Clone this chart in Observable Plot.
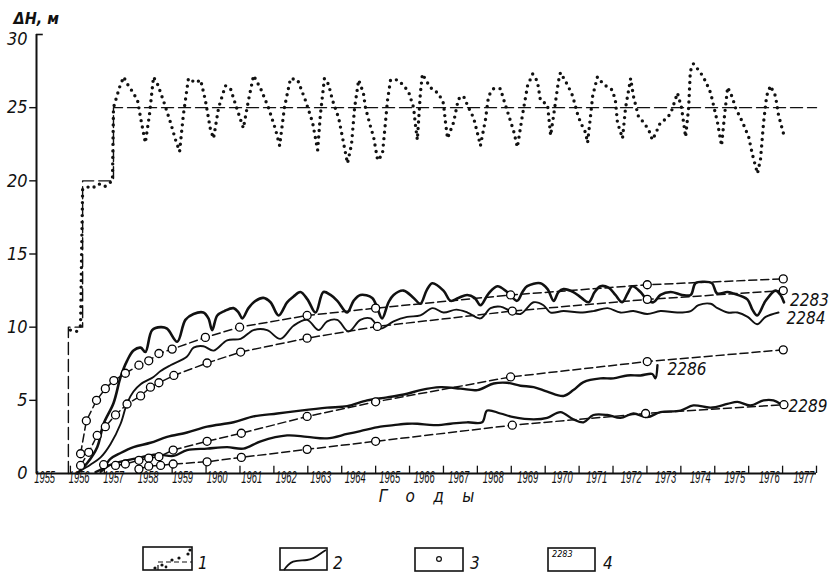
<!DOCTYPE html>
<html><head><meta charset="utf-8">
<script src="https://cdn.jsdelivr.net/npm/d3@7"></script>
<script src="https://cdn.jsdelivr.net/npm/@observablehq/plot@0.6"></script>
<style>
body{margin:0;background:#fff;}
#wrap{position:relative;width:829px;height:579px;overflow:hidden;}
#legend{position:absolute;left:0;top:510px;}
</style></head><body>
<div id="wrap"><div id="chart"></div>
<svg id="legend" width="829" height="69" font-family='"Liberation Sans Narrow","DejaVu Sans Condensed",sans-serif' font-style="italic">
  <g fill="none" stroke="#111" stroke-width="1.6">
    <rect x="143" y="37" width="49" height="23"/>
    <rect x="280" y="38" width="47" height="22"/>
    <rect x="415" y="38" width="48" height="23"/>
    <rect x="548" y="38" width="47" height="23"/>
  </g>
  <path d="M158,60 V52 H192" fill="none" stroke="#111" stroke-width="1.2" stroke-dasharray="5,3"/>
  <g fill="#111"><circle cx="155" cy="58" r="1.6"/><circle cx="162" cy="55" r="1.6"/><circle cx="166" cy="57" r="1.4"/><circle cx="172" cy="50" r="1.6"/><circle cx="179" cy="48" r="1.6"/><circle cx="188" cy="44" r="1.6"/><circle cx="190" cy="40" r="1.6"/></g>
  <path d="M284,60 C292,48 299,51 307,50 C316,49 320,43 326,40" fill="none" stroke="#111" stroke-width="1.8"/>
  <circle cx="439" cy="49" r="2.4" fill="none" stroke="#111" stroke-width="1.2"/>
  <text x="552" y="47" font-size="9">2283</text>
  <g font-size="17" fill="#111">
    <text x="198" y="59">1</text><text x="333" y="59">2</text><text x="470" y="59">3</text><text x="603" y="59">4</text>
  </g>
</svg>
</div>
<script>
// ---------- data (decimal years, metres) ----------
const tickYears = d3.range(1956, 1979);
const yearLabels = d3.range(1955, 1978);
const yTickValues = [0, 5, 10, 15, 20, 25, 30];

// design (stepped) reservoir level rise, dashed
const designLevel = [[1955.94,0],[1955.94,10],[1956.36,10],[1956.36,20],[1957.27,20],[1957.27,25],[1978.0,25]];

// observed reservoir level (dotted)
const observedLevel = [
[1956.00,9.8],[1956.18,9.7],[1956.30,10.1],[1956.33,15],[1956.36,19.4],[1956.47,19.6],[1956.65,19.5],[1956.83,19.8],[1957.01,19.6],[1957.18,19.9],[1957.24,20.0],[1957.27,25.0],
[1957.36,25.7],[1957.45,26.4],[1957.57,27.1],[1957.71,26.5],[1957.83,26.1],[1957.98,25.5],[1958.07,24.3],[1958.21,22.6],[1958.33,24.5],[1958.45,27.1],[1958.57,26.6],[1958.74,25.5],[1958.95,24.0],[1959.10,22.8],[1959.22,22.0],
[1959.33,24.5],[1959.48,27.0],[1959.69,26.7],[1959.84,26.9],[1959.98,25.5],[1960.13,23.5],[1960.22,22.9],[1960.37,25.0],[1960.57,26.5],[1960.72,26.3],[1960.90,25.0],[1961.10,23.6],[1961.25,25.5],[1961.40,27.2],[1961.61,26.3],[1961.84,25.0],
[1962.05,23.5],[1962.17,22.4],[1962.31,25.0],[1962.49,27.0],[1962.70,26.9],[1962.93,25.5],[1963.14,24.0],[1963.29,22.1],[1963.37,24.5],[1963.49,27.0],[1963.61,26.6],[1963.73,25.5],[1963.91,24.3],[1964.02,23.0],[1964.17,21.2],
[1964.29,22.5],[1964.38,25.0],[1964.50,26.9],[1964.64,26.0],[1964.70,25.0],[1964.85,23.7],[1964.94,23.0],[1965.06,21.4],[1965.20,21.8],[1965.29,24.0],[1965.35,25.5],[1965.44,26.9],[1965.65,26.9],[1965.79,26.6],[1965.97,26.1],
[1966.12,25.0],[1966.18,23.7],[1966.23,22.8],[1966.32,26.0],[1966.38,27.3],[1966.53,26.7],[1966.68,26.2],[1966.85,26.0],[1967.00,25.3],[1967.06,24.0],[1967.12,22.9],[1967.30,24.0],[1967.44,25.6],[1967.59,25.8],[1967.74,25.0],
[1967.89,24.3],[1968.03,23.0],[1968.09,22.4],[1968.24,24.2],[1968.33,25.8],[1968.48,26.3],[1968.68,26.3],[1968.77,25.6],[1968.92,24.5],[1969.07,23.4],[1969.18,22.3],[1969.33,24.5],[1969.48,26.5],[1969.63,27.3],[1969.77,26.8],
[1969.86,25.5],[1970.07,25.2],[1970.16,23.1],[1970.25,24.5],[1970.39,26.8],[1970.45,27.4],[1970.60,26.8],[1970.69,26.4],[1970.81,25.8],[1970.95,24.6],[1971.04,24.0],[1971.19,23.3],[1971.25,22.6],[1971.34,24.5],[1971.40,25.8],
[1971.54,27.1],[1971.72,26.6],[1971.98,26.2],[1972.07,25.5],[1972.13,24.0],[1972.28,22.9],[1972.37,25.0],[1972.52,27.0],[1972.60,25.8],[1972.75,24.4],[1972.90,24.0],[1973.05,23.5],[1973.16,22.8],[1973.25,23.2],[1973.40,24.0],
[1973.55,24.2],[1973.70,24.6],[1973.90,26.0],[1974.02,25.0],[1974.14,23.0],[1974.23,25.0],[1974.28,27.5],[1974.37,28.0],[1974.58,27.4],[1974.73,26.8],[1974.88,26.0],[1974.96,25.2],[1975.08,24.0],[1975.20,22.4],[1975.29,24.5],
[1975.38,26.4],[1975.52,25.7],[1975.61,25.0],[1975.82,24.0],[1976.00,23.0],[1976.11,21.8],[1976.26,20.5],[1976.35,21.5],[1976.44,24.0],[1976.53,25.8],[1976.64,26.5],[1976.79,25.8],[1976.88,24.5],[1977.03,23.2]];

// observed groundwater rise in wells (solid)
const obs2283 = [
[1956.20,0],[1956.49,0.7],[1956.79,1.8],[1956.98,3.4],[1957.27,4.8],[1957.48,6.6],[1957.67,7.7],[1957.86,8.4],[1958.07,8.6],[1958.21,8.3],[1958.41,9.8],[1958.66,10.0],[1958.85,9.9],[1959.15,9.0],
[1959.39,10.5],[1959.63,10.9],[1959.92,11.0],[1960.07,10.6],[1960.18,9.8],[1960.33,10.8],[1960.54,11.1],[1960.81,11.3],[1960.96,11.0],[1961.07,10.6],[1961.25,11.3],[1961.46,11.8],[1961.69,12.0],[1961.90,11.7],
[1962.14,10.8],[1962.39,11.7],[1962.58,12.1],[1962.78,12.4],[1962.99,11.9],[1963.23,11.0],[1963.46,12.4],[1963.67,12.2],[1963.87,11.8],[1964.16,11.0],[1964.35,11.8],[1964.55,12.2],[1964.90,12.0],[1965.05,11.3],
[1965.19,10.6],[1965.38,11.7],[1965.53,12.2],[1965.82,12.5],[1966.12,12.0],[1966.32,11.6],[1966.50,12.5],[1966.67,13.0],[1967.00,12.5],[1967.21,11.8],[1967.44,12.0],[1967.70,12.2],[1967.92,12.0],[1968.09,11.5],
[1968.33,12.3],[1968.59,12.8],[1968.88,12.4],[1969.17,11.8],[1969.33,12.4],[1969.47,12.8],[1969.86,13.0],[1970.07,12.6],[1970.25,11.8],[1970.39,12.4],[1970.54,12.6],[1970.83,12.4],[1971.07,12.0],[1971.28,11.7],
[1971.46,12.4],[1971.63,12.8],[1971.87,12.7],[1972.07,12.2],[1972.27,11.7],[1972.43,12.3],[1972.57,12.8],[1972.81,12.4],[1972.99,11.9],[1973.19,11.7],[1973.40,12.2],[1973.70,12.4],[1974.04,12.2],[1974.29,12.2],
[1974.43,13.0],[1974.67,13.1],[1974.92,13.0],[1975.07,12.3],[1975.37,12.4],[1975.55,12.3],[1975.96,11.9],[1976.11,11.2],[1976.25,10.8],[1976.50,11.8],[1976.79,12.5],[1976.94,12.2],[1977.04,11.7]];
const obs2284 = [
[1956.30,0.2],[1956.59,0.6],[1956.89,1.1],[1957.18,2.0],[1957.48,3.4],[1957.67,4.8],[1957.86,5.6],[1958.07,6.1],[1958.45,6.6],[1958.66,7.0],[1958.95,7.4],[1959.44,8.0],[1959.63,8.6],[1959.92,8.7],
[1960.22,8.4],[1960.62,9.1],[1961.02,9.2],[1961.40,9.8],[1961.80,9.8],[1962.19,9.2],[1962.58,10.1],[1962.98,10.5],[1963.32,9.8],[1963.57,10.4],[1963.87,10.5],[1964.20,9.7],[1964.55,10.5],[1964.85,10.6],
[1965.14,9.9],[1965.53,10.4],[1965.93,10.7],[1966.32,10.8],[1966.68,11.3],[1967.00,11.0],[1967.38,11.2],[1967.71,11.0],[1968.09,10.6],[1968.39,11.3],[1968.68,11.4],[1968.98,11.1],[1969.27,10.9],[1969.66,11.7],
[1969.95,11.5],[1970.16,11.0],[1970.54,11.1],[1971.04,11.0],[1971.42,11.1],[1971.84,11.3],[1972.22,11.0],[1972.60,11.1],[1973.01,10.9],[1973.40,11.1],[1973.90,11.0],[1974.29,11.1],[1974.52,11.5],[1974.88,11.6],
[1975.08,11.3],[1975.38,11.0],[1975.67,11.0],[1975.97,10.7],[1976.25,10.2],[1976.50,10.7],[1976.88,11.0]];
const obs2286 = [
[1956.74,0.1],[1956.98,0.4],[1957.18,1.0],[1957.48,1.4],[1957.86,1.8],[1958.36,2.1],[1958.85,2.5],[1959.44,2.8],[1960.03,3.2],[1960.81,3.5],[1961.40,3.9],[1962.10,4.1],[1962.78,4.3],[1963.57,4.5],
[1964.16,4.6],[1964.75,5.0],[1965.34,5.2],[1965.93,5.45],[1966.32,5.7],[1966.91,5.9],[1967.50,5.8],[1968.00,5.7],[1968.48,6.15],[1968.88,6.2],[1969.27,6.0],[1969.66,5.9],[1970.06,5.6],[1970.54,5.3],
[1970.83,5.7],[1971.13,6.25],[1971.63,6.5],[1972.01,6.5],[1972.42,6.7],[1972.81,6.7],[1973.16,6.8],[1973.25,6.5],[1973.31,7.4]];
const obs2289 = [
[1956.89,0.1],[1957.18,0.6],[1957.86,1.0],[1958.56,1.3],[1959.04,1.2],[1959.44,1.6],[1960.03,1.7],[1960.62,1.8],[1961.10,1.7],[1961.61,2.2],[1962.39,2.6],[1962.98,2.5],[1963.57,2.4],[1964.16,2.7],
[1964.55,2.9],[1965.14,3.2],[1965.53,3.3],[1965.93,3.4],[1966.23,3.4],[1966.71,3.3],[1967.21,3.4],[1967.70,3.5],[1968.14,3.5],[1968.29,4.3],[1968.68,4.1],[1969.07,3.85],[1969.66,3.7],[1970.06,3.8],
[1970.45,4.2],[1970.83,3.7],[1971.13,3.5],[1971.42,4.0],[1971.83,4.0],[1972.22,3.8],[1972.60,4.1],[1973.01,3.85],[1973.40,4.2],[1973.99,4.3],[1974.37,4.65],[1974.88,4.5],[1975.37,4.75],[1975.67,4.9],
[1976.05,4.65],[1976.44,5.0],[1976.73,5.0],[1976.94,4.75]];

// computed rise (dashed with circles)
const calc2283 = [[1956.30,1.35],[1956.47,3.6],[1956.77,5.0],[1957.03,5.8],[1957.28,6.35],[1957.62,6.85],[1958.02,7.4],[1958.31,7.7],[1958.61,8.2],[1959.00,8.5],[1959.98,9.3],[1960.99,10.0],[1962.98,10.8],[1965.00,11.3],[1968.98,12.2],[1973.01,12.9],[1977.02,13.3]];
const calc2284 = [[1956.30,0.55],[1956.54,1.45],[1956.79,2.6],[1957.03,3.2],[1957.33,4.0],[1957.67,4.75],[1958.07,5.3],[1958.36,5.9],[1958.61,6.2],[1959.05,6.7],[1960.03,7.55],[1961.02,8.3],[1962.98,9.25],[1965.05,10.05],[1969.03,11.1],[1973.01,11.9],[1977.02,12.5]];
const calc2286 = [[1956.98,0.6],[1957.33,0.55],[1957.62,0.65],[1958.02,0.9],[1958.31,1.05],[1958.61,1.15],[1959.03,1.6],[1960.03,2.2],[1961.04,2.75],[1962.98,3.9],[1965.00,4.9],[1968.98,6.6],[1973.01,7.65],[1977.02,8.45]];
const calc2289 = [[1958.02,0.3],[1958.31,0.5],[1958.66,0.55],[1959.03,0.65],[1960.03,0.8],[1961.04,1.1],[1962.98,1.65],[1965.00,2.2],[1969.03,3.3],[1972.96,4.1],[1977.04,4.7]];

const wellNames = ["2283", "2284", "2286", "2289"];

// ---------- build ----------
const toObj = (arr, well) => arr.map(([x, y]) => ({x, y, well}));
const FONT = '"Liberation Sans Narrow","DejaVu Sans Condensed","Liberation Sans",sans-serif';
const obsSets = [obs2283, obs2284, obs2286, obs2289].map((a, i) => toObj(a, wellNames[i]));
const calcSets = [calc2283, calc2284, calc2286, calc2289].map((a, i) => toObj(a, wellNames[i]));
const obsWidths = [2.6, 1.9, 2.4, 2.3];
const labelOffsets = [[6, -2], [8, 6], [10, 4], [8, 3]];

const marks = [
  Plot.ruleY([0], {strokeWidth: 2}),
  Plot.ruleX([1955], {y1: 0, y2: 30, strokeWidth: 2}),
  Plot.ruleX(tickYears, {x: d => d, y1: 0, y2: 0.5, strokeWidth: 1.3}),
  Plot.ruleY(yTickValues.filter(v => v > 0 && v < 30), {y: d => d, x1: 1954.8, x2: 1955, strokeWidth: 1.4}),
  Plot.ruleY([30], {y: d => d, x1: 1955, x2: 1955.2, strokeWidth: 1.6}),
  Plot.text(yTickValues.filter(v => v < 30), {x: 1955, y: d => d, text: d => String(d), dx: -9, textAnchor: "end", fontSize: 18, fontStyle: "italic"}),
  Plot.text([30], {x: 1955, y: d => d, text: d => String(d), dx: -9, dy: 5, textAnchor: "end", fontSize: 18, fontStyle: "italic"}),
  Plot.text(yearLabels, {x: d => d + 0.24 + (d - 1955) * 0.0175, y: 0, text: d => String(d), dy: 9, fontSize: 17, fontStyle: "italic", fontFamily: "Liberation Sans"}),
  Plot.text(["Г\u2003\u2009о\u2003\u2009д\u2003\u2009ы"], {frameAnchor: "bottom", dy: 28, fontSize: 17, fontStyle: "italic"}),
  Plot.text(["ΔH, м"], {frameAnchor: "top-left", dx: -23, dy: -22, textAnchor: "start", fontSize: 16, fontStyle: "italic", fontWeight: "bold"}),
  Plot.line(toObj(designLevel), {x: "x", y: "y", strokeWidth: 1.4, strokeDasharray: "12,5"}),
  Plot.line(toObj(observedLevel), {x: "x", y: "y", strokeWidth: 3.4, strokeLinecap: "round", strokeDasharray: "0,6.5"}),
  ...calcSets.map(d => Plot.line(d, {x: "x", y: "y", strokeWidth: 1.5, strokeDasharray: "8,4"})),
  ...obsSets.map((d, i) => Plot.line(d, {x: "x", y: "y", strokeWidth: obsWidths[i], curve: "catmull-rom", strokeLinejoin: "round"})),
  ...calcSets.map(d => Plot.dot(d, {x: "x", y: "y", r: 4, fill: "white", stroke: "black", strokeWidth: 1.3})),
  ...obsSets.map((d, i) => Plot.text([d[d.length - 1]], {x: "x", y: "y", text: "well", textAnchor: "start", dx: labelOffsets[i][0], dy: labelOffsets[i][1], fontSize: 17, fontStyle: "italic"}))
];

const chart = Plot.plot({
  width: 829, height: 510,
  marginLeft: 36, marginRight: 13, marginTop: 34, marginBottom: 37,
  x: {domain: [1955, 1978], axis: null},
  y: {domain: [0, 30], axis: null},
  style: {fontFamily: FONT, background: "white", color: "#111", overflow: "visible"},
  marks
});
// condense the crowded year labels horizontally, like the printed original
d3.select(chart).selectAll("text")
  .filter(function() { return /^19\d\d$/.test(this.textContent); })
  .each(function() {
    const t = d3.select(this);
    const x = +t.attr("x") || 0, y = +t.attr("y") || 0;
    const tr = t.attr("transform") || "";
    t.attr("x", null).attr("y", null)
     .attr("transform", `${tr} translate(${x},${y}) scale(0.55,1)`)
     .style("font-size", "17px").style("font-family", "'Liberation Sans', sans-serif");
  });
document.getElementById("chart").appendChild(chart);
</script>
</body></html>
